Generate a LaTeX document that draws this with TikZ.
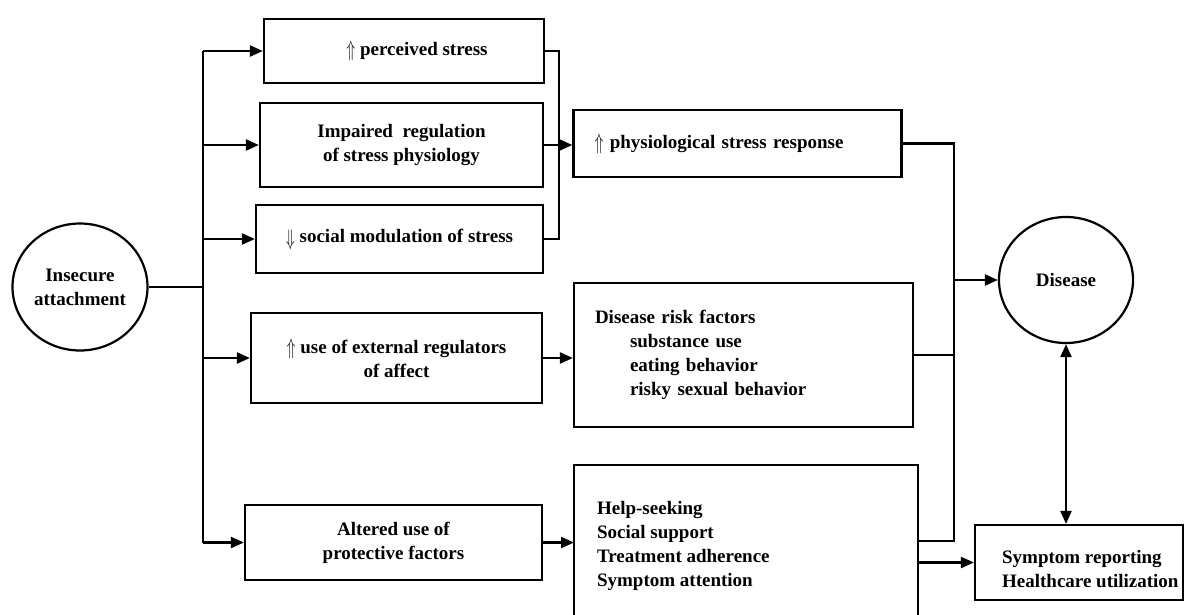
\documentclass[tikz,border=0pt]{standalone}
\usepackage{fontspec}
\setmainfont{Liberation Serif}
\usetikzlibrary{shapes.geometric,arrows.meta}
% tall double arrows used as "increase" / "decrease" marks
\newcommand\incr{\raisebox{-1pt}{\scalebox{0.85}[1.3]{$\Uparrow$}}}
\newcommand\decr{\raisebox{-3pt}{\scalebox{0.85}[1.3]{$\Downarrow$}}}
\begin{document}
\begin{tikzpicture}[x=1pt,y=-1pt,
  line width=2.2pt,
  every node/.style={font=\fontsize{19}{24}\selectfont\bfseries},
  stagebox/.style={draw,rectangle,align=center,inner sep=0pt},
  listbox/.style={draw,rectangle,align=left,inner ysep=0pt},
  bubble/.style={draw,ellipse,align=center,inner sep=0pt},
  arr/.style={-{Triangle[length=13pt,width=11pt]}},
  arrboth/.style={{Triangle[length=13pt,width=11pt]}-{Triangle[length=13pt,width=11pt]}}
]
\useasboundingbox (0,0) rectangle (1186,614);

% source and outcome
\node[bubble,minimum width=135pt,minimum height=127pt] (ins) at (80,287) {Insecure\\attachment};
\node[bubble,minimum width=134pt,minimum height=126pt] (dis) at (1066,280) {Disease};

% first column of mechanisms
\node[stagebox,minimum width=280pt,minimum height=64pt] (b1) at (404,51) {\hspace*{26pt}\incr\ perceived stress};
\node[stagebox,minimum width=283pt,minimum height=84pt] (b2) at (401.5,145) {Impaired\ \ regulation\\of stress physiology};
\node[stagebox,minimum width=287pt,minimum height=68pt] (b3) at (399.5,239) {\decr\ social modulation of stress};
\node[stagebox,minimum width=291pt,minimum height=90pt] (b7) at (396.5,358) {\incr\ use of external regulators\\of affect};
\node[stagebox,minimum width=297pt,minimum height=75pt] (b8) at (393.5,542.5) {Altered use of\\protective factors};

% second column
\node[listbox,text width=286pt,inner xsep=21pt,minimum height=67pt] (b4) at (737.5,143.5) {\incr\ physiological stress response};
\node[listbox,text width=297pt,inner xsep=21pt,minimum height=144pt] (b5) at (743.5,355)
  {Disease risk factors\\\hspace*{35pt}substance use\\\hspace*{35pt}eating behavior\\\hspace*{35pt}risky sexual behavior};
\node[rectangle,inner sep=0pt,minimum width=342pt,minimum height=149pt,anchor=north west] (b6) at (574,465) {};
\node[align=left,anchor=west,inner sep=0pt] (b6text) at (596,546) {Help-seeking\\Social support\\Treatment adherence\\Symptom attention};
\draw (b6.south west) -- (b6.north west) -- (b6.north east) -- (b6.south east);

% reporting box
\node[rectangle,draw,minimum width=208pt,minimum height=75pt] (sym) at (1079,562.5) {};
\node[align=left,anchor=west,inner sep=0pt] (symtext) at (1001,569) {Symptom reporting\\Healthcare utilization};

% trunk from the source
\coordinate (tx) at (203,0);
\draw (ins.east) -- (ins.east -| tx);
\draw (b1.west -| tx) -- (b8.west -| tx);
\foreach \b in {b1,b2,b3,b7,b8}
  \draw[arr] (\b.west -| tx) -- (\b.west);

% stress pathways merge
\coordinate (cx) at (559,0);
\draw (b1.east) -- (b1.east -| cx) -- (b3.east -| cx) -- (b3.east);
\draw[arr] (b2.east) -- (b2.east -| b4.west);
\draw[arr] (b7.east) -- (b7.east -| b5.west);
\draw[arr] (b8.east) -- (b8.east -| b6.west);

% collector towards disease
\coordinate (rx) at (954,0);
\draw (b4.east) -- (b4.east -| rx) -- (b6.east -| rx) -- (b6.east);
\draw (b5.east) -- (b5.east -| rx);
\draw[arr] (dis.west -| rx) -- (dis.west);
\draw[arr] (sym.west -| b6.east) -- (sym.west);
\draw[arrboth] (dis.south) -- (dis.south |- sym.north);
\end{tikzpicture}
\end{document}
